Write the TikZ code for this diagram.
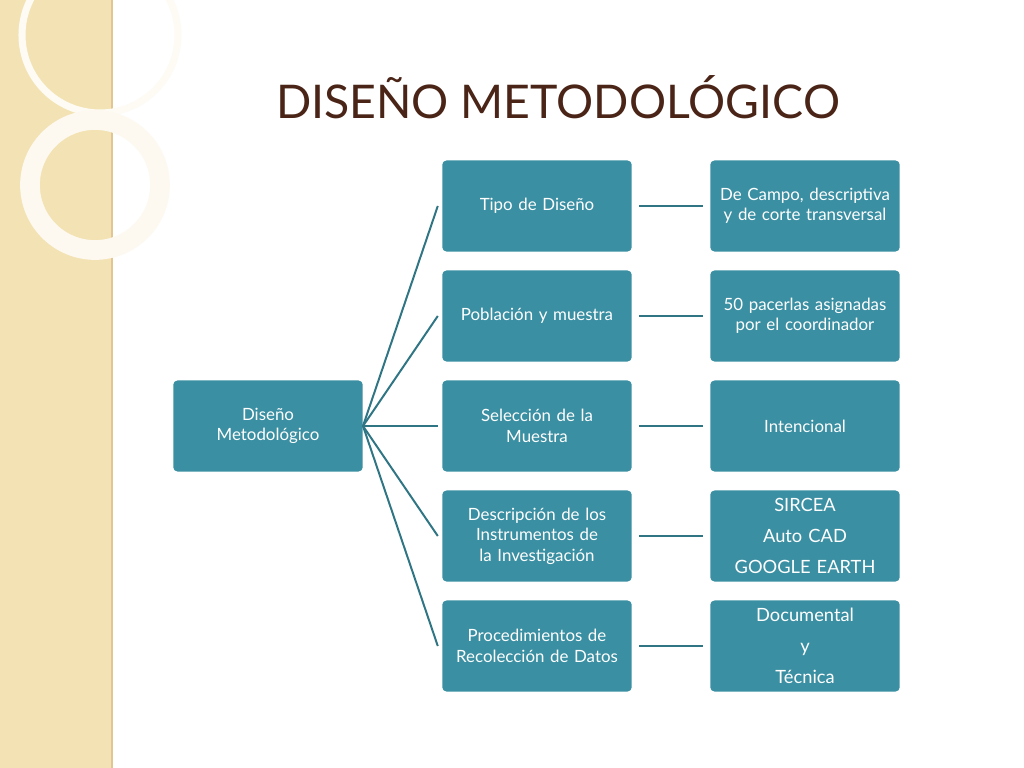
\documentclass[tikz,border=0pt]{standalone}
\usepackage{fontspec}
\setmainfont{Lato}
\usetikzlibrary{positioning}
\definecolor{teal1}{HTML}{3A8FA2}
\definecolor{tealline}{HTML}{2F7584}
\definecolor{beige}{HTML}{F3E3B4}
\definecolor{titlebrown}{HTML}{4A2416}
\tikzset{
  box/.style={fill=teal1, rounded corners=3pt, minimum width=4.7cm, minimum height=2.275cm,
    text width=4.5cm, align=center, text=white, font=\fontsize{12}{14.5}\selectfont},
  link/.style={tealline, line width=1.4pt}
}
\begin{document}
\begin{tikzpicture}[x=0.025cm, y=-0.025cm]
                \useasboundingbox (0,0) rectangle (1024,768);
                \fill [white] (0,0) rectangle (1024,768);
                \fill [beige] (0,0) rectangle (112,768);
                \draw [beige!70!brown, line width=1pt] (112,0) -- (112,768);
                \draw [white!85!beige, line width=5pt] (100,35) circle (78);
                \draw [white!80!beige, line width=14pt] (95,185) circle (65);
                \node [text=titlebrown, font=\fontsize{33}{36}\selectfont] (title) at (558,97) {DISEÑO METODOLÓGICO};
                \node [box] (root) at (268,426) {Diseño\\Metodológico};
                \node [box] (m1) at (537,206) {Tipo de Diseño};
                \node [box] (m2) at (537,316) {Población y muestra};
                \node [box] (m3) at (537,426) {Selección de la\\Muestra};
                \node [box] (m4) at (537,536) {Descripción de los Instrumentos de la Investigación};
                \node [box] (m5) at (537,646) {Procedimientos de Recolección de Datos};
                \node [box] (r1) at (805,206) {De Campo, descriptiva y de corte transversal};
                \node [box] (r2) at (805,316) {50 pacerlas asignadas por el coordinador};
                \node [box] (r3) at (805,426) {Intencional};
                \node [box, font=\fontsize{13}{22}\selectfont] (r4) at (805,536) {SIRCEA\\Auto CAD\\GOOGLE EARTH};
                \node [box, font=\fontsize{13}{22}\selectfont] (r5) at (805,646) {Documental\\y\\Técnica};
                \foreach \i in {1,...,5} {
                  \draw [link] (root.east) -- ([xshift=-3pt]m\i.west);
                  \draw [link] ([xshift=5pt]m\i.east) -- ([xshift=-5pt]r\i.west);
                }
            \end{tikzpicture}
\end{document}
